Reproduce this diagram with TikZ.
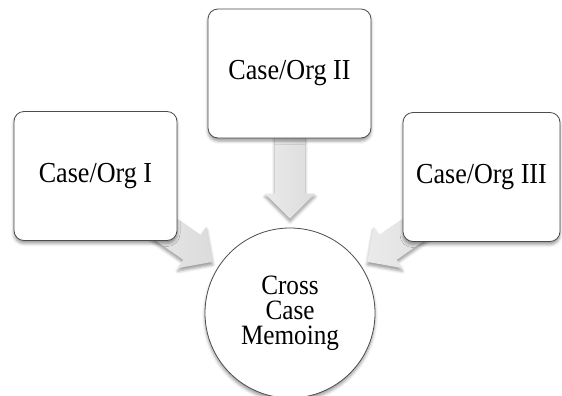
\documentclass[tikz,border=0pt]{standalone}
\usepackage{fontspec}
\setmainfont{Liberation Serif}[FakeStretch=0.9]
\usetikzlibrary{shapes.arrows,shadows.blur}

\begin{document}
\begin{tikzpicture}[x=1pt,y=-1pt,
  softshadow/.style={blur shadow={shadow xshift=0pt, shadow yshift=-3pt,
      shadow blur radius=3pt, shadow opacity=40}},
  casebox/.style={draw=black!70, line width=0.8pt, fill=white,
      rounded corners=10pt, minimum width=163pt, minimum height=129pt,
      inner sep=0pt, font=\fontsize{29}{34}\selectfont, softshadow},
  hub/.style={circle, draw=black!70, line width=0.8pt, fill=white,
      minimum size=170pt, inner sep=0pt, align=center,
      font=\fontsize{28}{25}\selectfont, softshadow},
  blockarrow/.style={single arrow, single arrow head extend=10pt,
      single arrow tip angle=90, inner xsep=0pt, inner ysep=15pt,
      minimum height=95pt, draw=none, left color=black!8, right color=black!14,
      anchor=tip, softshadow}]
  \useasboundingbox (0,0) rectangle (562,396);

  % block arrows, drawn first so the boxes cover their tails
  \node[blockarrow, rotate=-90]    (a2) at (290,219) {};
  \node[blockarrow, rotate=-34.8]  (a1) at (213,262) {};
  \node[blockarrow, rotate=-145.2] (a3) at (367,262) {};

  % outer cases
  \node[casebox] (c1) at (95.5,176) {Case/Org I};
  \node[casebox] (c2) at (289.5,73.5) {Case/Org II};
  \node[casebox, minimum width=157pt] (c3) at (481.5,177) {Case/Org III};

  % centre
  \node[hub] (memo) at (290,313) {Cross\\Case\\Memoing};
\end{tikzpicture}
\end{document}
